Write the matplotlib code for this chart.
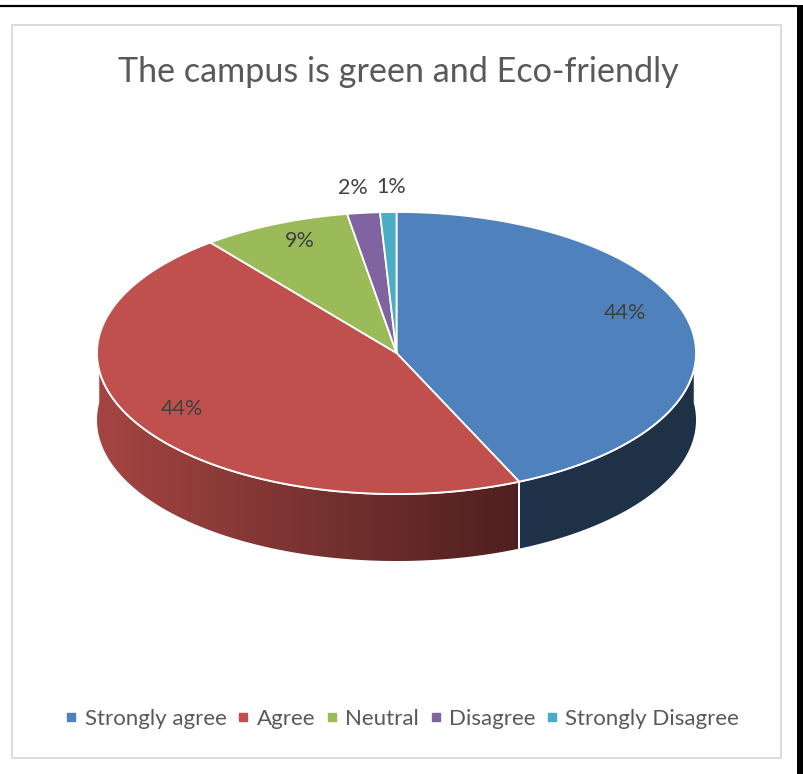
import numpy as np
import matplotlib
matplotlib.use("Agg")
import matplotlib.pyplot as plt
from matplotlib.patches import Polygon, Rectangle
from matplotlib.lines import Line2D
from matplotlib.colors import to_rgb

# ---- data ----
title = "The campus is green and Eco-friendly"
categories = ["Strongly agree", "Agree", "Neutral", "Disagree", "Strongly Disagree"]
values = [44, 44, 9, 2, 1]
colors = ["#4F81BD", "#C0504D", "#9BBB59", "#8064A2", "#4BACC6"]

plt.rcParams['font.family'] = ['Lato', 'DejaVu Sans']

W, H = 804, 774
fig = plt.figure(figsize=(W / 100, H / 100), dpi=100)
ax = fig.add_axes([0, 0, 1, 1])
ax.set_xlim(0, W)
ax.set_ylim(H, 0)
ax.axis('off')

# frame lines
ax.plot([0, 797], [6, 6], color='black', lw=1.6, solid_capstyle='butt')
ax.add_patch(Rectangle((797, 5), 10, 780, color='black', lw=0))
ax.add_patch(Rectangle((12.5, 24.5), 769, 733, fill=False, ec='#D9D9D9', lw=1.3))

# title
ax.text(398, 72, title, ha='center', va='center', fontsize=24.6, color='#595959')

# ---- 3D pie geometry ----
cx, cy, rx, ry, depth = 396.5, 353.0, 299.5, 141.0, 67.0


def proj(theta_deg):
    # mild perspective: back compressed, front expanded
    return theta_deg - 7.0 * np.sin(np.radians(theta_deg - 90))


def pt(theta_deg, r=1.0, dz=0.0):
    t = np.radians(proj(theta_deg))
    return cx + rx * r * np.cos(t), cy - ry * r * np.sin(t) + dz


vals = np.array(values, dtype=float)
fr = vals / vals.sum()
bounds = 90 - 360 * np.concatenate([[0], np.cumsum(fr)])  # clockwise from top


def shade_factor(x):
    f = 0.86 - (x - 97) / 423.0 * 0.46
    return np.clip(f, 0.38, 0.9)

# sides (front half)
for i, c in enumerate(colors):
    a0, a1 = bounds[i], bounds[i + 1]
    segs = []
    for off in (0, -360, 360):
        lo = max(a1 + off, -180)
        hi = min(a0 + off, 0)
        if hi > lo:
            segs.append((lo, hi))
    for lo, hi in segs:
        th = np.linspace(lo, hi, 200)
        xs, ys = pt(th)
        top = np.column_stack([xs, ys])
        bot = np.column_stack([xs, ys + depth])[::-1]
        poly = np.vstack([top, bot])
        patch = Polygon(poly, closed=True, facecolor='none', edgecolor='none')
        ax.add_patch(patch)
        x0, x1 = xs.min(), xs.max()
        y0, y1 = ys.min(), ys.max() + depth
        gx = np.linspace(x0, x1, 256)
        base = np.array(to_rgb(c))
        img = (shade_factor(gx)[:, None] * base[None, :])[None, :, :]
        im = ax.imshow(img, extent=[x0, x1, y1, y0], aspect='auto',
                       interpolation='bilinear', zorder=1)
        im.set_clip_path(patch)
        for a in (lo, hi):
            if -180 < a < 0:
                bx, by = pt(a)
                ax.plot([bx, bx], [by, by + depth], color='white', lw=1.2, zorder=2)

# white rim line along front top edge
th = np.linspace(-180, 0, 400)
xs, ys = pt(th)
ax.plot(xs, ys, color='white', lw=1.5, zorder=3)

# top faces
for i, c in enumerate(colors):
    a0, a1 = bounds[i], bounds[i + 1]
    th = np.linspace(a0, a1, 300)
    xs, ys = pt(th)
    poly = np.vstack([[cx, cy], np.column_stack([xs, ys])])
    ax.add_patch(Polygon(poly, closed=True, facecolor=c, edgecolor='white',
                         lw=1.3, joinstyle='round', zorder=4))

# data labels
positions = []
for i, v in enumerate(values):
    mid = (bounds[i] + bounds[i + 1]) / 2
    t = np.radians(proj(mid))
    if fr[i] > 0.05:
        lx = cx + rx * 0.80 * np.cos(t)
        if np.sin(t) < 0:
            ly = cy - ry * 0.92 * np.sin(t) - 2
        else:
            ly = cy - ry * 0.84 * np.sin(t) - 4
    else:
        lx, ly = pt(mid, 1.18)
    positions.append([lx, ly])
# spread outside labels so they don't collide
small = [i for i in range(len(values)) if fr[i] <= 0.05]
for a, b in zip(small[:-1], small[1:]):
    dx = positions[b][0] - positions[a][0]
    if abs(dx) < 39:
        m = (positions[a][0] + positions[b][0]) / 2
        s = np.sign(dx) if dx != 0 else 1
        positions[a][0] = m - s * 19.5
        positions[b][0] = m + s * 19.5
for (lx, ly), v in zip(positions, values):
    ax.text(lx, ly, f"{v}%", ha='center', va='center', fontsize=15.5,
            color='#404040', zorder=6)

# legend
handles = [Line2D([], [], marker='s', linestyle='none', markersize=6,
                  markerfacecolor=c, markeredgecolor=c) for c in colors]
leg = ax.legend(handles, categories, loc='center', bbox_to_anchor=(402 / W, 1 - 719 / H),
                bbox_transform=fig.transFigure, ncol=5, frameon=False,
                fontsize=16, handlelength=0.6, handletextpad=0.3,
                columnspacing=0.45, labelcolor='#595959')

fig.savefig("out.png", dpi=100)
